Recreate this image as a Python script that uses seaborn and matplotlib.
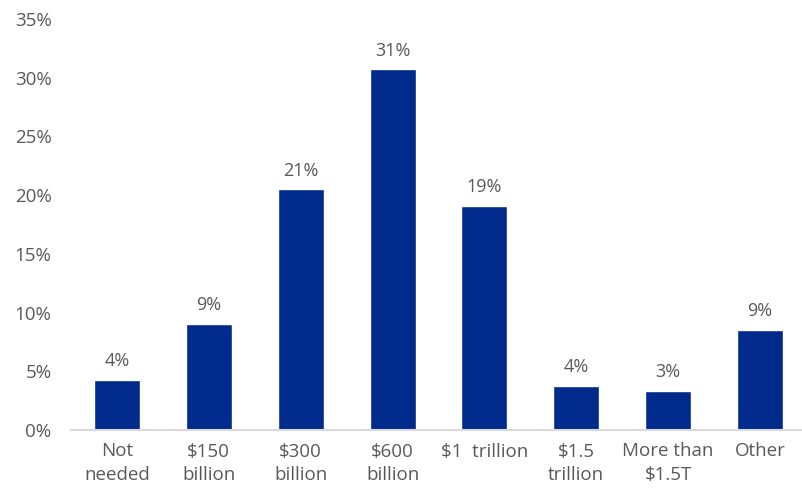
import matplotlib
matplotlib.use("Agg")
import matplotlib.pyplot as plt
import seaborn as sns
import pandas as pd
from matplotlib.ticker import FuncFormatter

categories = ["Not\nneeded", "$150\nbillion", "$300\nbillion", "$600\nbillion",
              "$1  trillion", "$1.5\ntrillion", "More than\n$1.5T", "Other"]
values = [4.26, 9.03, 20.5, 30.7, 19.1, 3.75, 3.35, 8.52]
labels = ["4%", "9%", "21%", "31%", "19%", "4%", "3%", "9%"]
yticks = [0, 5, 10, 15, 20, 25, 30, 35]

sns.set_theme(style="white")
plt.rcParams['font.family'] = ['Open Sans', 'DejaVu Sans']

df = pd.DataFrame({"cat": categories, "val": values})

fig = plt.figure(figsize=(8.03, 4.91), dpi=100)
ax = fig.add_axes([71/803, 61/491, (806-71)/803, (430-19)/491])

sns.barplot(data=df, x="cat", y="val", color="#002A8C", width=0.5,
            saturation=1, ax=ax)

text_color = "#595959"
ax.bar_label(ax.containers[0], labels=labels, padding=7, fontsize=13,
             color=text_color)

ax.set_ylim(0, 35)
ax.set_yticks(yticks)
ax.yaxis.set_major_formatter(FuncFormatter(lambda v, p: f"{int(v)}%"))
ax.set_xlim(-0.5, 7.5)
ax.set_xlabel("")
ax.set_ylabel("")
for s in ["top", "right", "left"]:
    ax.spines[s].set_visible(False)
ax.spines["bottom"].set_color("#D9D9D9")
ax.spines["bottom"].set_linewidth(1.5)
ax.tick_params(axis="both", length=0, labelsize=13.5, colors=text_color)
ax.tick_params(axis="x", pad=9)
ax.tick_params(axis="y", pad=14)
for t in ax.get_xticklabels():
    t.set_linespacing(1.4)
ax.grid(False)

fig.savefig("out.png", dpi=100)
